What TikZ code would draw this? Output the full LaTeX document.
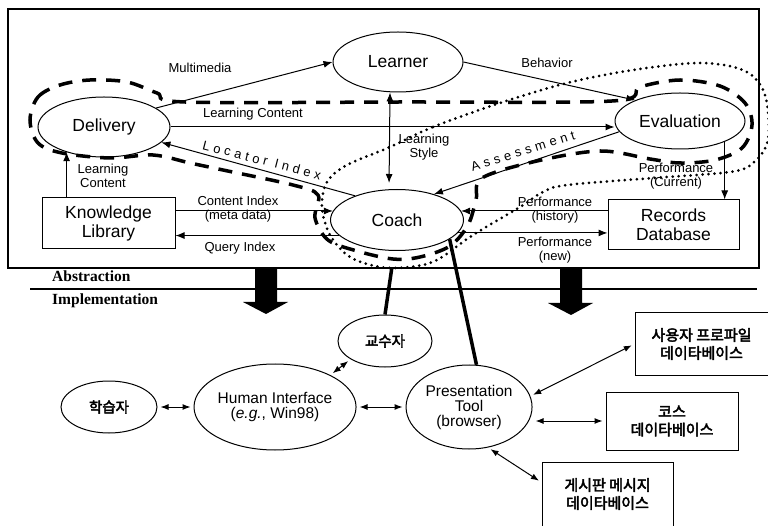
\documentclass[tikz,border=0pt]{standalone}
\usepackage{fontspec}
\setmainfont{Liberation Sans}
\newfontfamily\korfont[FakeBold=3]{Noto Sans CJK KR}
\newfontfamily\headfont{Liberation Serif}
\usetikzlibrary{positioning}
\usetikzlibrary{arrows.meta,shapes.geometric}

\tikzset{
    unit/.style={ellipse, draw, line width=1pt, inner sep=0pt, align=center, font=\fontsize{17.5}{19}\selectfont},
    tool/.style={ellipse, draw, line width=1pt, inner sep=0pt, align=center, font=\fontsize{15.5}{15}\selectfont},
    korunit/.style={ellipse, draw, line width=1pt, inner sep=0pt, font=\korfont\fontsize{14.5}{18}\selectfont},
    store/.style={rectangle, draw, line width=1pt, inner sep=0pt, align=center, font=\fontsize{17.5}{19}\selectfont},
    korbox/.style={rectangle, draw, line width=1pt, inner sep=0pt, align=center, font=\korfont\fontsize{15}{18}\selectfont},
    lbl/.style={inner sep=0pt, align=center, font=\fontsize{13}{14}\selectfont},
    head/.style={anchor=west, inner sep=0pt, font=\headfont\bfseries\fontsize{15.5}{16}\selectfont},
    flow/.style={-{Latex[length=9pt,width=7pt]}, line width=1pt},
    flowboth/.style={{Latex[length=9pt,width=7pt]}-{Latex[length=9pt,width=7pt]}, line width=1pt},
    link/.style={{Latex[length=8pt,width=6pt]}-{Latex[length=8pt,width=6pt]}, line width=1pt, shorten <=3pt, shorten >=3pt},
    heavy/.style={line width=3.5pt},
    loopa/.style={line width=3.5pt, dash pattern=on 14pt off 10pt},
    loopb/.style={line width=3pt, line cap=round, dash pattern=on 0pt off 6pt},
}

\begin{document}
\begin{tikzpicture}[x=1pt,y=-1pt]
    \useasboundingbox (0,0) rectangle (768,526);
    \begin{scope}[every node/.style={unit}]
        \node(learner)[minimum width=130pt, minimum height=60pt] at (398,62) {Learner};
        \node(delivery)[minimum width=132pt, minimum height=60pt] at (104,127) {Delivery};
        \node(evaluation)[minimum width=130pt, minimum height=56pt] at (680,121) {Evaluation};
        \node(coach)[minimum width=133pt, minimum height=61pt] at (397,220) {Coach};
    \end{scope}
    \node(library)[store, minimum width=133pt, minimum height=51pt] at (108.5,223.5) {Knowledge\\Library};
    \node(records)[store, minimum width=131pt, minimum height=50pt] at (673.5,225) {Records\\Database};

    %Frame
    \draw[line width=1.2pt] (8,9) rectangle (759,268);
    \draw[line width=2pt] (30,289) -- (757,289);
    \node(abstraction)[head] at (52,276) {Abstraction};
    \node(implementation)[head] at (52,301) {Implementation};
    \fill (255,268) -- (277,268) -- (277,302) -- (288,302) -- (266,314) -- (243,302) -- (255,302) -- cycle;
    \fill (560,268) -- (582,268) -- (582,303) -- (593,303) -- (571,315) -- (548,303) -- (560,303) -- cycle;

    %Loops
    \draw[loopa] plot[smooth cycle, tension=0.55] coordinates {(30,120) (38,97) (60,85) (90,80) (127,82) (157,93) (185,102) (400,102) (612,101) (640,87) (680,80) (720,86) (745,103) (752,125) (742,148) (715,160) (680,163) (650,159) (600,151) (537,161) (482,178) (476,200) (468,225) (450,246) (420,257) (393,259) (357,251) (328,240) (315,218) (318,195) (293,185) (223,170) (190,163) (153,155) (110,158) (62,153) (38,143)};
    \draw[loopb] plot[smooth cycle, tension=0.55] coordinates {(390,147) (433,127) (500,103) (567,83) (633,70) (700,63) (745,71) (765,95) (768,140) (753,163) (730,172) (653,178) (567,185) (543,192) (520,207) (473,235) (437,260) (410,267) (380,267) (350,257) (330,235) (322,207) (327,182) (347,165)};

    %Lines
    \draw[flow] (delivery.20) -- (learner.west);
    \draw[flow] (learner.east) -- (evaluation.155);
    \draw[flow] (delivery.east) -- (delivery.east -| evaluation.west);
    \draw[flowboth, shorten >=6pt] ([xshift=-8pt]learner.south) -- ([xshift=-8pt]coach.north);
    \draw[flow] (coach.150) -- (delivery.-15);
    \draw[flow] (evaluation.190) -- (coach.35);
    \draw[flow] (library.north -| delivery.214) -- (delivery.214);
    \draw[flow] (library.east |- coach.172) -- (coach.172);
    \draw[flow] (coach.195) -- (coach.195 -| library.east);
    \draw[flow] (records.west |- coach.8) -- (coach.8);
    \draw[flow] (coach.-12) -- (coach.-12 -| records.west);
    \draw[flow] (evaluation.-25) -- (evaluation.-25 |- records.north);

    %Labels
    \node(multimedia)[lbl] at (200,68) {Multimedia};
    \node(behavior)[lbl] at (547,63) {Behavior};
    \node(content)[lbl] at (253,114) {Learning Content};
    \node(style)[lbl] at (424,147) {Learning\\Style};
    \node(locator)[lbl, rotate=-14.5] at (262,160) {\addfontfeature{LetterSpace=30}Locator Index};
    \node(assessment)[lbl, rotate=17.5] at (523,151) {\addfontfeature{LetterSpace=32}Assessment};
    \node(libcontent)[lbl] at (103,176) {Learning\\Content};
    \node(index)[lbl] at (238,209) {Content Index\\(meta data)};
    \node(query)[lbl] at (240,248) {Query Index};
    \node(history)[lbl] at (555,210) {Performance\\(history)};
    \node(new)[lbl] at (555,250) {Performance\\(new)};
    \node(current)[lbl] at (676,176) {Performance\\(Current)};

    %Implementation
    \node(student)[korunit, minimum width=96pt, minimum height=52pt] at (109,407) {학습자};
    \node(human)[tool, minimum width=150pt, minimum height=86pt, right=36pt of student] {Human Interface\\(\textit{e.g.}, Win98)};
    \node(browser)[tool, minimum width=126pt, minimum height=84pt, right=49pt of human] {Presentation\\Tool\\(browser)};
    \node(tutor)[korunit, minimum width=94pt, minimum height=52pt] at (385,341) {교수자};
    \node(profiledb)[korbox, minimum width=133pt, minimum height=62pt] at (701.5,344) {사용자 프로파일\\데이타베이스};
    \node(coursedb)[korbox, minimum width=132pt, minimum height=58pt] at (672,421) {코스\\데이타베이스};
    \node(boarddb)[korbox, minimum width=131pt, minimum height=64pt] at (607.5,494) {게시판 메시지\\데이타베이스};

    \draw[heavy, shorten <=18pt] (coach.265) -- (tutor.north);
    \draw[heavy] (coach.-20) -- (browser.80);
    \draw[link] (student) -- (human);
    \draw[link] (human.30) -- (tutor.208);
    \draw[link] (human) -- (browser);
    \draw[link] (browser.10) -- (profiledb.west);
    \draw[link] (browser.east |- coursedb.west) -- (coursedb.west);
    \draw[link] (browser.-65) -- (boarddb.170);
\end{tikzpicture}
\end{document}
